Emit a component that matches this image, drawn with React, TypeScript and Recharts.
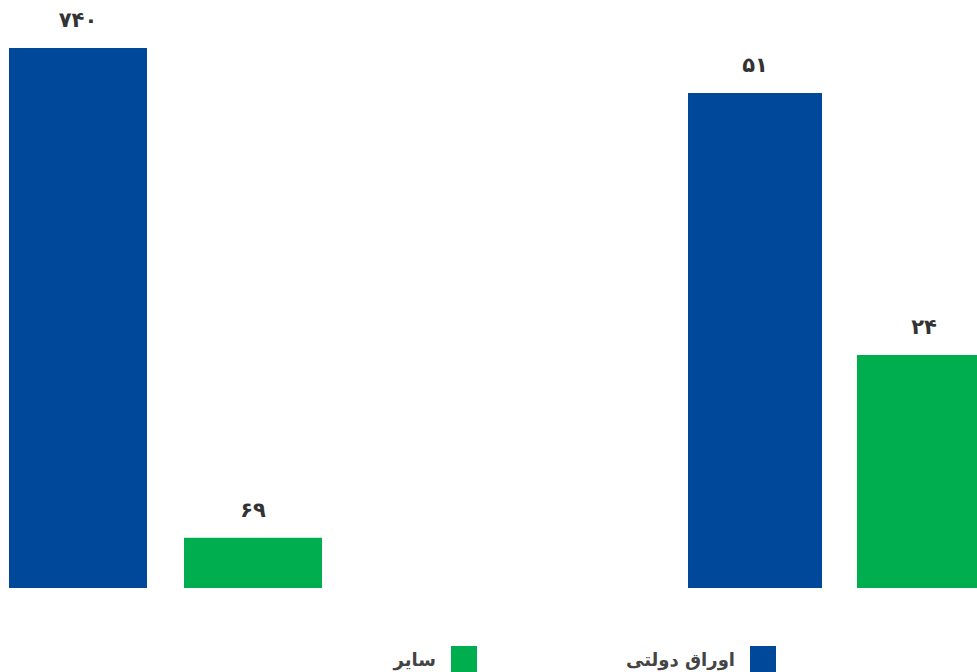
import React from "react";
import { BarChart, Bar, XAxis, YAxis, LabelList } from "recharts";

const seriesNames = ["اوراق دولتی", "سایر"];
const seriesColors = ["#004899", "#00ae4f"];

// two panels, each with its own scale
const leftValues = [740, 69];
const rightValues = [51, 24];

const faDigits = ["۰", "۱", "۲", "۳", "۴", "۵", "۶", "۷", "۸", "۹"];
const toFa = (v: any) => String(v).replace(/[0-9]/g, (d) => faDigits[Number(d)]);

const font = "'DejaVu Sans', sans-serif";
const labelStyle = { fontFamily: font, fontWeight: 700, fontSize: 21, fill: "#333" };

const Panel = (props: any) => {
  const { values, width, top, barSize, gap } = props;
  const data = [{ name: "g", a: values[0], b: values[1] }];
  return (
    <BarChart
      width={width}
      height={600}
      data={data}
      margin={{ top: top, right: 0, bottom: 12, left: 0 }}
      barGap={gap}
      barSize={barSize}
    >
      <XAxis dataKey="name" hide />
      <YAxis hide domain={[0, "dataMax"]} />
      <Bar dataKey="a" fill={seriesColors[0]} isAnimationActive={false}>
        <LabelList dataKey="a" position="top" offset={21} formatter={toFa} style={labelStyle} />
      </Bar>
      <Bar dataKey="b" fill={seriesColors[1]} isAnimationActive={false}>
        <LabelList dataKey="b" position="top" offset={21} formatter={toFa} style={labelStyle} />
      </Bar>
    </BarChart>
  );
};

const LegendItem = (props: any) => {
  const { label, color, right } = props;
  return (
    <div
      style={{
        position: "absolute",
        top: 646,
        right: right,
        display: "flex",
        flexDirection: "row",
        alignItems: "center",
        direction: "rtl",
      }}
    >
      <div style={{ width: 26, height: 26, background: color }} />
      <span
        style={{
          marginRight: 15,
          fontFamily: font,
          fontWeight: 700,
          fontSize: 18,
          color: "#444",
        }}
      >
        {label}
      </span>
    </div>
  );
};

export default function App() {
  return (
    <div
      style={{
        position: "absolute",
        left: 0,
        top: 0,
        width: 977,
        height: 672,
        overflow: "hidden",
        background: "#fff",
      }}
    >
      <div style={{ position: "absolute", left: 0, top: 0 }}>
        <Panel values={leftValues} width={330} top={48} barSize={138} gap={37} />
      </div>
      <div style={{ position: "absolute", left: 679, top: 0 }}>
        <Panel values={rightValues} width={321} top={93} barSize={134} gap={35} />
      </div>
      <LegendItem label={seriesNames[0]} color={seriesColors[0]} right={977 - 776} />
      <LegendItem label={seriesNames[1]} color={seriesColors[1]} right={977 - 477} />
    </div>
  );
}
